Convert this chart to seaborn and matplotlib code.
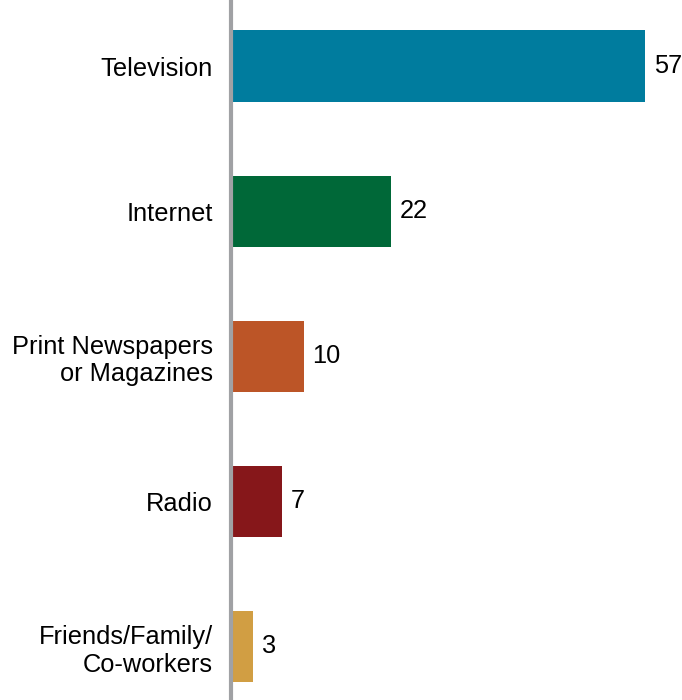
import seaborn as sns
import matplotlib.pyplot as plt
import pandas as pd

categories = ['Television', 'Internet', 'Print Newspapers\nor Magazines', 'Radio', 'Friends/Family/\nCo-workers']
values = [57, 22, 10, 7, 3]
colors = ['#007C9E', '#006838', '#BC5527', '#86171A', '#D19E43']

df = pd.DataFrame({'source': categories, 'pct': values})

sns.set_style('white')
plt.rcParams['font.family'] = ['Liberation Sans', 'DejaVu Sans']
plt.rcParams['text.color'] = 'black'
plt.rcParams['ytick.color'] = 'black'

fig = plt.figure(figsize=(6.82, 7.0), dpi=100)
ax = fig.add_axes([231 / 682, 0, 451 / 682, 1])

sns.barplot(data=df, x='pct', y='source', hue='source', palette=colors,
            legend=False, width=0.49, saturation=1, linewidth=0, ax=ax, orient='h')

# value labels
for i, v in enumerate(values):
    ax.text(v + 1.2, i, str(v), va='center', ha='left', fontsize=18.3, color='black')

ax.set_xlim(0, 451 / 7.27)
ax.set_ylim(4.37, -0.455)
ax.set_xlabel('')
ax.set_ylabel('')
ax.set_xticks([])
ax.tick_params(axis='y', length=0, pad=13, labelsize=18.3, labelcolor='black')
for lbl in ax.get_yticklabels():
    lbl.set_linespacing(1.2)

for s in ['top', 'right', 'bottom']:
    ax.spines[s].set_visible(False)
ax.spines['left'].set_color('#A0A1A4')
ax.spines['left'].set_linewidth(3)

fig.savefig('out.png', dpi=100)
